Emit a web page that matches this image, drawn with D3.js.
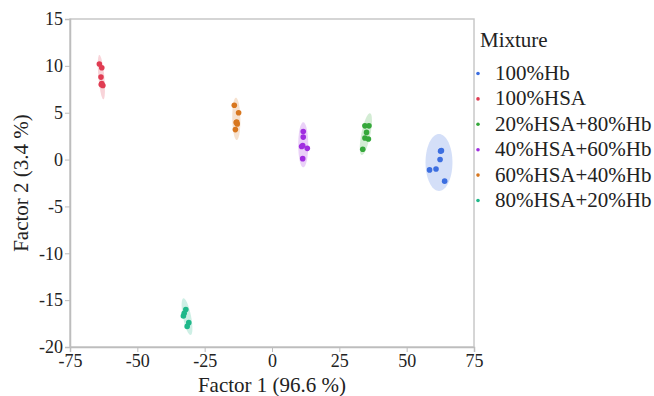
<!DOCTYPE html>
<html>
<head>
<meta charset="utf-8">
<script src="https://cdn.jsdelivr.net/npm/d3@7"></script>
<style>
  body { margin: 0; background: #fff; }
  svg, text { font-family: "Liberation Serif", "Times New Roman", serif; }
  text { fill: #222; }
</style>
</head>
<body>
<div id="chart"></div>
<script>
// groups in legend order
var groups = ['100%Hb', '100%HSA', '20%HSA+80%Hb', '40%HSA+60%Hb', '60%HSA+40%Hb', '80%HSA+20%Hb'];
var colors = ['#3c6ee0', '#e03c52', '#35a83a', '#a02ee0', '#d8771f', '#1fb88a'];

// scores [factor1, factor2] per group
var pts100Hb = [[62.6, 0.9], [62.9, 0.95], [62.4, 0.0], [58.5, -1.1], [60.9, -1.0], [64.1, -2.3]];
var pts100HSA = [[-64.1, 10.2], [-63.2, 9.8], [-63.5, 8.8], [-63.2, 8.1], [-62.8, 7.9], [-63.4, 8.0]];
var pts20HSA = [[34.5, 3.6], [36.0, 3.6], [35.1, 2.9], [34.5, 2.3], [35.8, 2.2], [33.7, 1.1]];
var pts40HSA = [[11.6, 3.0], [11.6, 2.4], [11.0, 1.4], [11.4, 1.5], [13.1, 1.2], [11.4, 0.1]];
var pts60HSA = [[-14.0, 5.8], [-12.4, 5.0], [-13.1, 4.0], [-12.9, 3.8], [-13.6, 3.2], [-13.3, 3.95]];
var pts80HSA = [[-32.0, -16.0], [-32.6, -16.4], [-32.9, -16.7], [-30.9, -17.4], [-31.5, -17.8]];

// density ellipses: major axis ends [x1, y1, x2, y2] and minor half width (factor 1 units)
var ellipseEnds = [
  [62.0, 2.73, 62.0, -3.35],
  [-64.1, 11.16, -62.6, 6.43],
  [36.4, 4.94, 33.3, 0.49],
  [11.6, 3.98, 11.6, -0.82],
  [-13.4, 6.6, -13.1, 2.09],
  [-32.9, -14.8, -30.2, -18.72]
];
var ellipseWidth = [5.0, 1.1, 1.67, 1.86, 1.5, 1.5];

var xTicks = [-75, -50, -25, 0, 25, 50, 75];
var yTicks = [-20, -15, -10, -5, 0, 5, 10, 15];

var allPts = [pts100Hb, pts100HSA, pts20HSA, pts40HSA, pts60HSA, pts80HSA];

var svgWidth = 654;
var svgHeight = 396;
var margin = { top: 19, left: 70 };
var width = 404;
var height = 328;
var serif = '"Liberation Serif", "Times New Roman", serif';

var svg = d3.select('#chart').append('svg')
  .attr('width', svgWidth)
  .attr('height', svgHeight)
  .attr('font-family', serif);

var chartGroup = svg.append('g')
  .attr('transform', `translate(${margin.left}, ${margin.top})`);

var xScale = d3.scaleLinear().domain([-75, 75]).range([0, width]);
var yScale = d3.scaleLinear().domain([-20, 15]).range([height, 0]);

// frame
chartGroup.append('rect')
  .attr('width', width)
  .attr('height', height)
  .attr('fill', 'none')
  .attr('stroke', '#c8c8c8')
  .attr('stroke-width', 1.5);

var xAxis = chartGroup.append('g')
  .attr('transform', `translate(0, ${height})`)
  .call(d3.axisBottom(xScale).tickValues(xTicks).tickFormat(d => String(d)).tickSize(5).tickPadding(2));

var yAxis = chartGroup.append('g')
  .call(d3.axisLeft(yScale).tickValues(yTicks).tickFormat(d => String(d)).tickSize(5).tickPadding(2));

[xAxis, yAxis].forEach(function(ax) {
  ax.attr('font-family', serif).attr('font-size', 18);
  ax.select('.domain').attr('stroke', '#bdbdbd').attr('stroke-width', 1.5);
  ax.selectAll('.tick line').attr('stroke', '#bdbdbd');
  ax.selectAll('.tick text')
    .attr('font-family', serif)
    .attr('font-size', '18px')
    .attr('fill', '#222');
});

// ellipse path built in pixel space from data ends
function ellipsePath(ends, w) {
  var x1 = xScale(ends[0]), y1 = yScale(ends[1]);
  var x2 = xScale(ends[2]), y2 = yScale(ends[3]);
  var cx = (x1 + x2) / 2, cy = (y1 + y2) / 2;
  var a = Math.hypot(x2 - x1, y2 - y1) / 2;
  var b = xScale(w) - xScale(0);
  var ang = Math.atan2(y2 - y1, x2 - x1);
  var line = [];
  for (var i = 0; i <= 72; i++) {
    var t = i / 72 * 2 * Math.PI;
    var ex = a * Math.cos(t), ey = b * Math.sin(t);
    line.push([cx + ex * Math.cos(ang) - ey * Math.sin(ang), cy + ex * Math.sin(ang) + ey * Math.cos(ang)]);
  }
  return d3.line()(line) + 'Z';
}

chartGroup.selectAll('.ell')
  .data(ellipseEnds)
  .enter()
  .append('path')
  .attr('d', (d, i) => ellipsePath(d, ellipseWidth[i]))
  .attr('fill', (d, i) => colors[i])
  .attr('fill-opacity', 0.22)
  .attr('stroke', 'none');

allPts.forEach(function(pts, i) {
  chartGroup.selectAll('.pt' + i)
    .data(pts)
    .enter()
    .append('circle')
    .attr('cx', d => xScale(d[0]))
    .attr('cy', d => yScale(d[1]))
    .attr('r', 2.8)
    .attr('fill', colors[i]);
});

// axis titles
svg.append('text')
  .attr('x', margin.left + width / 2)
  .attr('y', 392)
  .attr('text-anchor', 'middle')
  .attr('font-family', serif)
  .attr('font-size', '21px')
  .text('Factor 1 (96.6 %)');

svg.append('text')
  .attr('transform', `translate(28, ${margin.top + height / 2}) rotate(-90)`)
  .attr('text-anchor', 'middle')
  .attr('font-family', serif)
  .attr('font-size', '21px')
  .text('Factor 2 (3.4 %)');

// legend
var legend = svg.append('g');
legend.append('text')
  .attr('x', 480)
  .attr('y', 47)
  .attr('font-family', serif)
  .attr('font-size', '21px')
  .text('Mixture');

var items = legend.selectAll('.item')
  .data(groups)
  .enter()
  .append('g')
  .attr('transform', (d, i) => `translate(0, ${73.5 + i * 25.4})`);

items.append('circle')
  .attr('cx', 478)
  .attr('cy', 0)
  .attr('r', 1.8)
  .attr('fill', (d, i) => colors[i]);

items.append('text')
  .attr('x', 495)
  .attr('y', 6.5)
  .attr('font-family', serif)
  .attr('font-size', '21px')
  .text(d => d);

// force layout so the installed font is used before capture
svg.selectAll('text').each(function() { this.getBBox(); });
</script>
</body>
</html>
